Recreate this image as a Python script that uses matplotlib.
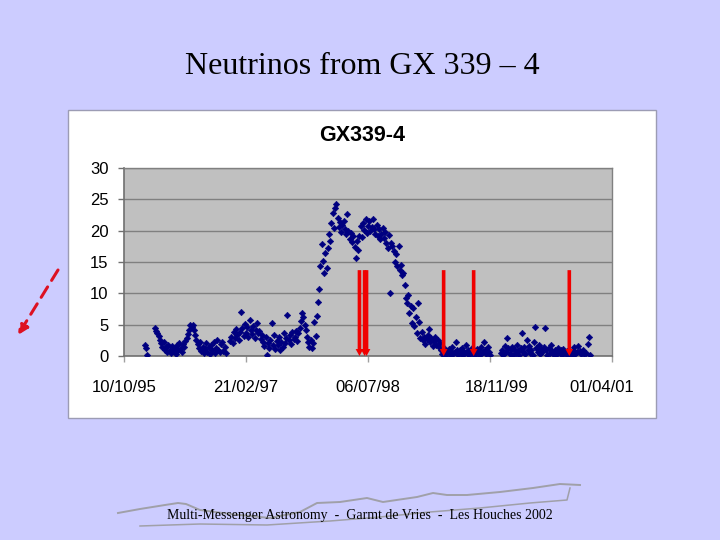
"""GX 339-4 light curve slide: neutrino arrows over the X-ray flux history."""
import matplotlib
matplotlib.use("Agg")
import matplotlib.pyplot as plt
import matplotlib.dates as mdates
import matplotlib.transforms as mtransforms
from matplotlib.patches import Rectangle, FancyArrowPatch
from matplotlib.lines import Line2D
import pandas as pd

SLIDE_BG = "#CCCCFF"
PLOT_BG = "#C0C0C0"
GRID = "#808080"
POINT = "#000080"
ARROW = "#F00000"

TITLE = "Neutrinos from GX 339 \u2013 4"
CHART_TITLE = "GX339-4"
FOOTER = "Multi-Messenger Astronomy  -  Garmt de Vries  -  Les Houches 2002"

# x-axis: Excel date axis, one label every 500 days
TICK_DATES = ["1995-10-10", "1997-02-21", "1998-07-06", "1999-11-18", "2001-04-01"]
Y_TICKS = [0, 5, 10, 15, 20, 25, 30]

# flux readings, 5-day cadence inside each observing segment
SEG1_START = "1996-01-04"
SEG1_FLUX = [1.7, 1.2, 0.1]

SEG2_START = "1996-02-14"
SEG2_FLUX = [
    4.4, 4.0, 3.6, 3.2,
    2.6, 2.0, 1.4, 2.2, 0.9, 1.5, 0.6, 1.8, 1.0, 0.4, 1.6, 0.8, 1.3, 0.3, 1.7,
    0.9, 2.1, 1.2, 0.6, 1.9, 1.4, 2.4,
    2.8, 3.5, 4.2, 4.9, 4.6, 5.0, 4.1, 3.4, 2.6,
    1.9, 1.2, 2.3, 0.8, 1.5, 0.5, 1.1, 2.0, 0.7, 1.4,
    0.3, 1.8, 0.9, 2.2, 0.4, 1.3, 2.5, 1.0, 0.6, 1.9, 2.3, 0.8, 1.5, 0.5,
]

SEG3_START = "1996-12-18"
SEG3_FLUX = [
    2.4, 3.1, 2.0, 3.8, 2.9, 4.3, 3.3, 2.6,
    3.9, 7.0, 4.4, 3.2, 5.1, 3.7, 4.6, 3.0, 5.8, 4.1, 3.5, 4.8, 2.9, 4.2,
    5.3, 3.6, 4.0, 2.7, 3.4,
    2.3, 1.6, 3.0, 0.1, 2.0, 1.2, 2.6, 5.2, 1.8, 3.4, 1.1, 2.4, 1.7, 3.0,
    0.9, 2.2, 1.5, 3.6, 2.0, 2.8,
    6.5, 2.5, 3.3, 1.9, 3.8, 2.7, 3.1, 4.0, 2.4, 3.6, 4.5,
    5.6, 6.9, 6.2, 5.0,
    4.1, 3.0, 2.2, 1.4, 2.6, 1.2, 2.0,
    5.5, 3.2, 6.4, 8.6, 10.7,
    14.3, 17.9, 15.2, 13.3, 16.4, 14.0, 17.2, 19.5, 18.3,
    21.3, 22.8, 20.4, 23.6, 24.3, 22.1,
    20.6, 21.4, 19.8, 20.9, 21.6, 20.2, 19.4, 22.6, 20.0, 18.6, 19.7, 18.2,
    19.1, 17.4,
    15.6, 18.3, 16.9,
    19.2, 20.7, 19.0, 21.2, 20.1, 21.9, 19.6, 20.8, 21.5, 19.9, 20.6, 21.8,
    20.3, 19.4, 20.9, 19.1, 20.2, 18.7, 19.5, 20.4,
    18.9, 19.8, 18.1, 17.3, 19.3, 10.0, 18.0, 17.6, 16.8,
    15.0, 16.2, 14.4, 17.5, 13.8, 14.6, 12.9,
    13.2, 11.3,
    9.3, 8.4, 9.7, 6.9, 8.0, 5.2, 7.6, 4.8, 6.3, 3.6, 8.5, 5.4, 2.9,
    3.8, 2.5, 3.1, 1.9, 2.7, 3.4, 4.3, 2.2, 2.9, 1.6, 2.4, 3.0, 1.8, 2.6,
    1.4, 2.0,
    0.9, 0.3, 1.2, 0.1, 0.7, 0.4, 1.1, 0.2, 0.8, 1.4, 0.3, 0.6, 2.3, 0.9,
    0.2, 1.0, 0.5, 1.3, 0.1, 0.7, 1.8, 0.4, 1.0, 0.2, 0.6, 1.2, 0.3, 0.8,
    0.1, 1.1, 0.5, 0.9, 0.2, 1.4, 0.6, 2.3, 1.0, 0.3, 1.5, 0.7, 0.2,
]

SEG4_START = "2000-01-02"
SEG4_FLUX = [
    0.4, 1.0, 0.2, 1.6, 0.7, 2.8, 1.3, 0.3, 0.9, 1.5, 0.1, 1.1, 0.5, 1.7,
    0.8, 0.2, 1.2, 3.7, 0.6, 1.4, 0.3, 2.5, 0.9, 1.6, 0.4, 1.0, 0.2, 2.2,
    4.7, 1.3, 0.7, 1.8, 0.3, 1.1, 0.6, 1.5, 4.5, 0.9, 0.2, 1.2, 0.5, 1.8,
    0.8, 0.3, 1.0, 0.1, 0.7, 1.3, 0.4, 0.9, 0.2, 1.1, 0.6, 0.3, 0.8, 0.1,
    1.0, 0.5, 0.2, 0.9, 1.4, 0.3, 0.7,
]

# sparse tail at the end of 2000
TAIL_DATES = ["2000-11-14", "2000-11-20", "2000-11-26", "2000-12-02", "2000-12-08",
              "2000-12-15", "2000-12-22", "2000-12-28", "2001-01-01"]
TAIL_FLUX = [1.6, 0.8, 0.3, 1.0, 0.3, 0.5, 1.9, 3.1, 0.2]

# neutrino event dates (red arrows) and the flux level the arrows start from
EVENT_DATES = ["1998-06-01", "1998-06-22", "1998-06-30", "1999-05-12",
               "1999-09-12", "2000-10-08"]
ARROW_TOP = 13.7

plt.rcParams["font.family"] = ["Liberation Sans", "DejaVu Sans"]

fig = plt.figure(figsize=(7.2, 5.4), dpi=100, facecolor=SLIDE_BG)

# white chart frame
fig.patches.append(Rectangle((68 / 720, 1 - 418 / 540), 588 / 720, 308 / 540,
                             transform=fig.transFigure, facecolor="white",
                             edgecolor="#9C9CB4", linewidth=1.0, zorder=-5))

ax = fig.add_axes([124 / 720, 1 - 356 / 540, 488 / 720, 188 / 540])
ax.set_zorder(2)
ax.set_facecolor(PLOT_BG)

segments = [(SEG1_START, SEG1_FLUX), (SEG2_START, SEG2_FLUX),
            (SEG3_START, SEG3_FLUX), (SEG4_START, SEG4_FLUX)]
for start, flux in segments:
    dates = pd.date_range(start, periods=len(flux), freq="5D")
    ax.plot(dates, flux, linestyle="none", marker="D", markersize=3.3,
            color=POINT, markeredgewidth=0.4, zorder=3)
ax.plot(pd.to_datetime(TAIL_DATES), TAIL_FLUX, linestyle="none", marker="D",
        markersize=3.3, color=POINT, markeredgewidth=0.4, zorder=3)

for d in pd.to_datetime(EVENT_DATES):
    ax.annotate("", xy=(d, 0), xytext=(d, ARROW_TOP), zorder=4,
                arrowprops=dict(width=2.6, headwidth=5.5, headlength=5,
                                facecolor=ARROW, edgecolor="none", shrink=0))

tick_dt = pd.to_datetime(TICK_DATES)
ax.set_xlim(tick_dt[0], tick_dt[-1])
ax.set_xticks(tick_dt)
ax.xaxis.set_major_formatter(mdates.DateFormatter("%d/%m/%y"))
ax.set_ylim(0, 30)
ax.set_yticks(Y_TICKS)

ax.grid(axis="y", color=GRID, linewidth=1.0)
ax.set_axisbelow(True)
for side in ["top", "right"]:
    ax.spines[side].set_color(GRID)
    ax.spines[side].set_linewidth(1.0)
for side in ["left", "bottom"]:
    ax.spines[side].set_color("#707070")
    ax.spines[side].set_linewidth(1.2)

ax.tick_params(axis="y", direction="out", length=4, width=1, color="#707070",
               pad=7, labelsize=12)
ax.tick_params(axis="x", direction="out", length=4, width=1, color="#A0A0A0",
               pad=13, labelsize=12)

# Excel nudges the last two date labels a little
fig.canvas.draw()
xlabels = ax.get_xticklabels()
for lbl, dx in zip(xlabels[-2:], [7, -10]):
    lbl.set_transform(lbl.get_transform()
                      + mtransforms.ScaledTranslation(dx / 100, 0, fig.dpi_scale_trans))

fig.text(0.503, 1 - 136 / 540, CHART_TITLE, ha="center", va="center",
         fontsize=15.5, fontweight="bold")
fig.text(0.503, 1 - 67 / 540, TITLE, ha="center", va="center", fontsize=23,
         family=["Liberation Serif", "DejaVu Serif"])

# mountain sketch behind the footer
ridge_x = [118, 140, 165, 178, 186, 200, 230, 270, 300, 317, 340, 367, 383,
           417, 433, 447, 467, 500, 533, 560, 580]
ridge_y = [513, 509, 505, 503, 504, 510, 514, 518, 512, 503, 502, 498, 502,
           497, 493, 495, 495, 492, 488, 484, 485]
fig.add_artist(Line2D([x / 720 for x in ridge_x], [1 - y / 540 for y in ridge_y],
                      transform=fig.transFigure, color="#A0A0A8", linewidth=1.4))
low_x = [140, 200, 267, 330, 380, 430, 480, 530, 567, 570]
low_y = [526, 524, 525, 521, 517, 512, 508, 503, 500, 488]
fig.add_artist(Line2D([x / 720 for x in low_x], [1 - y / 540 for y in low_y],
                      transform=fig.transFigure, color="#A0A0A8", linewidth=1.1))

fig.text(0.5, 1 - 516 / 540, FOOTER, ha="center", va="center", fontsize=10,
         family=["Liberation Serif", "DejaVu Serif"])

# dashed red arrow on the left edge
fig.add_artist(FancyArrowPatch((58 / 720, 1 - 270 / 540), (18 / 720, 1 - 335 / 540),
                               transform=fig.transFigure,
                               arrowstyle="-|>,head_length=6,head_width=3",
                               mutation_scale=1, linewidth=2.2, linestyle=(0, (4, 2.5)),
                               color="#DD1122", shrinkA=0, shrinkB=0))

fig.savefig("out.png", dpi=100, facecolor=SLIDE_BG)
